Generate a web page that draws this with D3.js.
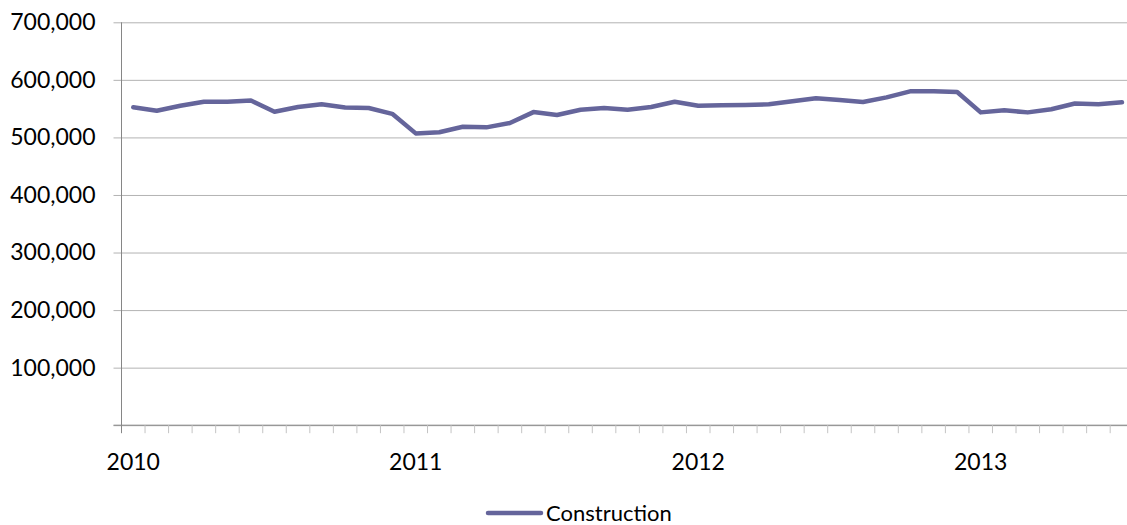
<!DOCTYPE html>
<html>
<head>
<meta charset="utf-8">
<script src="https://cdn.jsdelivr.net/npm/d3@7"></script>
<style>
  body { margin: 0; background: #fff; }
  svg { display: block; font-family: Lato, "Open Sans", sans-serif; }
</style>
</head>
<body>
<svg id="chart"></svg>
<script>
// monthly categories, Jan 2010 - Jul 2013
const months = d3.timeMonths(new Date(2010, 0, 1), new Date(2013, 7, 1));
const construction = [
  552300, 546400, 555000, 562000, 562000, 564000, 544700, 552800, 557500, 552000, 551000, 541000,
  507000, 509000, 518600, 517500, 525000, 544000, 539000, 548000, 551000, 548000, 552800, 562000,
  555000, 555700, 556300, 557500, 562700, 568000, 565000, 561500, 569600, 580000, 580000, 579000,
  543500, 547000, 543500, 549000, 559000, 557500, 561000
];
const yTicks = [0, 100000, 200000, 300000, 400000, 500000, 600000, 700000];
const seriesName = "Construction";

const W = 1127, H = 525;
const plotLeft = 121.5, plotTop = 22.3, plotBottom = 425.2;
const step = 23.54;

const svg = d3.select("#chart").attr("width", W).attr("height", H);

const x = d3.scaleBand()
  .domain(months.map(d => +d))
  .range([plotLeft, plotLeft + months.length * step])
  .padding(0);

const y = d3.scaleLinear()
  .domain([0, 700000])
  .range([plotBottom, plotTop]);

// gridlines + y labels
const yAxis = svg.append("g")
  .attr("transform", `translate(${plotLeft - 8},0)`)
  .call(d3.axisLeft(y)
    .tickValues(yTicks)
    .tickSize(-(W - plotLeft + 8))
    .tickPadding(18)
    .tickFormat(d => d === 0 ? "" : d3.format(",")(d)));
yAxis.select(".domain").remove();
yAxis.selectAll(".tick line").attr("stroke", "#b3b3b3").attr("stroke-width", 1);
yAxis.selectAll(".tick text")
  .attr("fill", "#000")
  .style("font-family", "Lato, sans-serif")
  .style("font-size", "23px");

// y axis line
svg.append("line")
  .attr("x1", plotLeft).attr("x2", plotLeft)
  .attr("y1", y(700000)).attr("y2", y(0))
  .attr("stroke", "#868686");

// x axis line
svg.append("line")
  .attr("x1", plotLeft - 8).attr("x2", W)
  .attr("y1", y(0)).attr("y2", y(0))
  .attr("stroke", "#868686");

// tick marks between categories
svg.append("g")
  .selectAll("line")
  .data(months.slice(1))
  .join("line")
  .attr("x1", d => x(+d)).attr("x2", d => x(+d))
  .attr("y1", y(0)).attr("y2", y(0) + 8)
  .attr("stroke", "#c4c4c4");

svg.append("line")
  .attr("x1", plotLeft).attr("x2", plotLeft)
  .attr("y1", y(0)).attr("y2", y(0) + 8)
  .attr("stroke", "#868686");

// year labels
const xAxis = svg.append("g")
  .attr("transform", `translate(0,${y(0)})`)
  .call(d3.axisBottom(x)
    .tickSize(0)
    .tickPadding(28)
    .tickFormat(d => new Date(d).getMonth() === 0 ? d3.timeFormat("%Y")(new Date(d)) : ""));
xAxis.select(".domain").remove();
xAxis.selectAll(".tick text")
  .attr("fill", "#000")
  .style("font-family", "Lato, sans-serif")
  .style("font-size", "23px");

// the line
const line = d3.line()
  .x((d, i) => x(+months[i]) + x.bandwidth() / 2)
  .y(d => y(d));

svg.append("path")
  .datum(construction)
  .attr("d", line)
  .attr("fill", "none")
  .attr("stroke", "#65659b")
  .attr("stroke-width", 4.5)
  .attr("stroke-linejoin", "round")
  .attr("stroke-linecap", "round");

// legend
const legend = svg.append("g").attr("transform", "translate(488,513)");
legend.append("line")
  .attr("x1", 0).attr("x2", 53)
  .attr("stroke", "#65659b")
  .attr("stroke-width", 4.5)
  .attr("stroke-linecap", "round");
legend.append("text")
  .attr("x", 58)
  .attr("y", 0)
  .attr("dy", "0.35em")
  .style("font-family", "Lato, sans-serif")
  .style("font-size", "22px")
  .text(seriesName);
</script>
</body>
</html>
